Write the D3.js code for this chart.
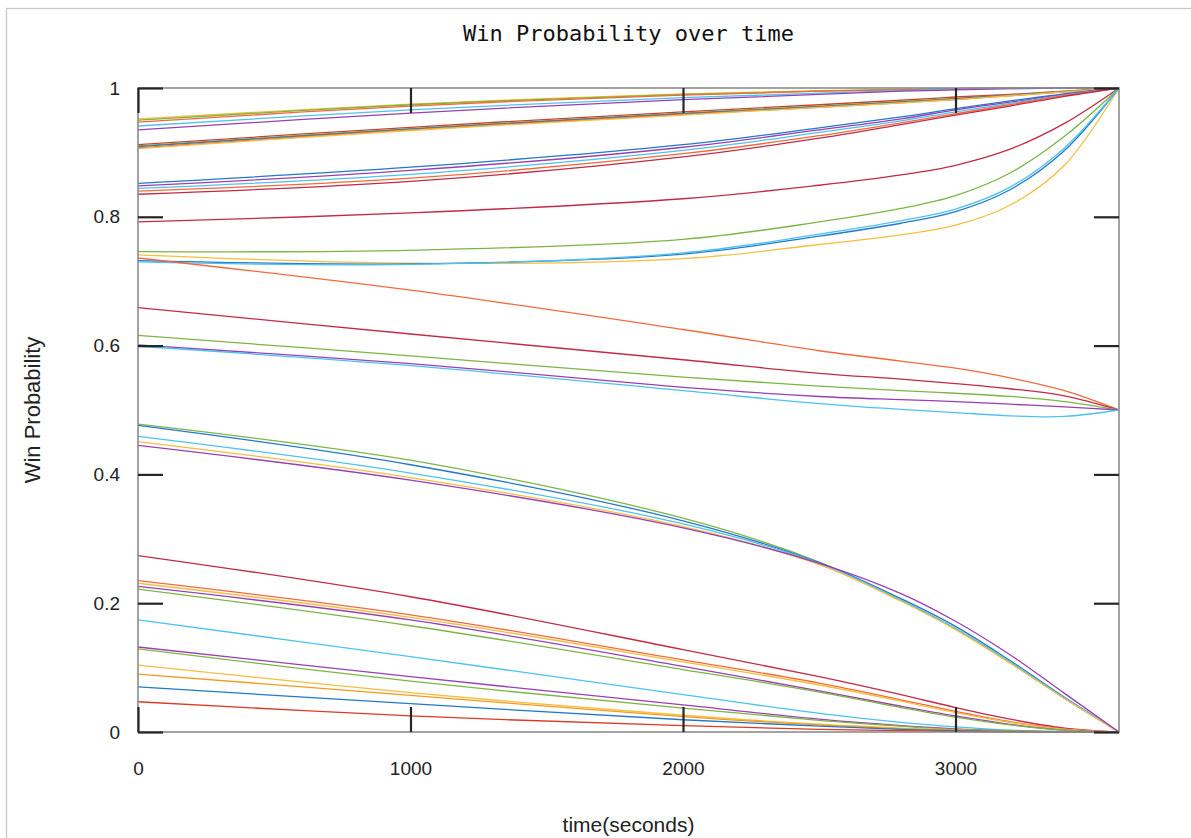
<!DOCTYPE html>
<html>
<head>
<meta charset="utf-8">
<script src="https://cdn.jsdelivr.net/npm/d3@7"></script>
<style>
  html, body { margin: 0; padding: 0; background: #fff; }
  svg { display: block; }
</style>
</head>
<body>
<svg id="chart" width="1191" height="838"></svg>
<script>
// ---------------- DATA ----------------
const times = [0, 1000, 2000, 2500, 2800, 3000, 3200, 3400, 3600];
const xTicks = [0, 1000, 2000, 3000];
const yTicks = [0, 0.2, 0.4, 0.6, 0.8, 1];
const titleText = "Win Probability over time";
const xLabel = "time(seconds)";
const yLabel = "Win Probability";

// lines starting near 0.95 (reach 1 early)
const groupTop = [
  [0.952, 0.975, 0.991, 0.996, 0.998, 0.999, 1.000, 1.000, 1.000],
  [0.950, 0.974, 0.990, 0.995, 0.998, 0.999, 1.000, 1.000, 1.000],
  [0.947, 0.972, 0.989, 0.995, 0.997, 0.999, 1.000, 1.000, 1.000],
  [0.941, 0.966, 0.985, 0.992, 0.996, 0.998, 0.999, 1.000, 1.000],
  [0.935, 0.961, 0.982, 0.990, 0.995, 0.997, 0.999, 1.000, 1.000]
];
const groupTopColors = ["yellow", "green", "orange", "lightblue", "purple"];

// lines starting near 0.91
const groupHigh = [
  [0.912, 0.939, 0.963, 0.974, 0.981, 0.986, 0.990, 0.995, 1.000],
  [0.910, 0.937, 0.961, 0.972, 0.979, 0.984, 0.989, 0.995, 1.000],
  [0.909, 0.936, 0.960, 0.971, 0.978, 0.983, 0.989, 0.994, 1.000],
  [0.907, 0.935, 0.959, 0.970, 0.977, 0.982, 0.988, 0.994, 1.000],
  [0.906, 0.934, 0.958, 0.970, 0.977, 0.982, 0.988, 0.994, 1.000]
];
const groupHighColors = ["red", "green", "blue", "orange", "yellow"];

// lines starting near 0.85
const groupUpper = [
  [0.852, 0.877, 0.912, 0.938, 0.955, 0.968, 0.980, 0.991, 1.000],
  [0.848, 0.872, 0.908, 0.935, 0.952, 0.966, 0.978, 0.990, 1.000],
  [0.844, 0.866, 0.903, 0.931, 0.949, 0.963, 0.976, 0.989, 1.000],
  [0.840, 0.860, 0.898, 0.926, 0.946, 0.960, 0.974, 0.988, 1.000],
  [0.835, 0.855, 0.893, 0.922, 0.943, 0.958, 0.972, 0.987, 1.000]
];
const groupUpperColors = ["blue", "purple", "lightblue", "orange", "crimson"];

// lines starting 0.73-0.79 ending at 1
const groupMid = [
  [0.792, 0.806, 0.828, 0.849, 0.865, 0.880, 0.905, 0.945, 1.000],
  [0.746, 0.748, 0.765, 0.792, 0.813, 0.833, 0.868, 0.925, 1.000],
  [0.741, 0.728, 0.735, 0.757, 0.772, 0.787, 0.818, 0.880, 1.000],
  [0.732, 0.727, 0.742, 0.770, 0.790, 0.808, 0.842, 0.903, 1.000],
  [0.730, 0.726, 0.744, 0.773, 0.794, 0.812, 0.846, 0.907, 1.000]
];
const groupMidColors = ["crimson", "green", "yellow", "blue", "lightblue"];

// lines ending at 0.5
const groupHalf = [
  [0.736, 0.686, 0.625, 0.592, 0.576, 0.565, 0.550, 0.530, 0.500],
  [0.659, 0.618, 0.578, 0.557, 0.548, 0.541, 0.533, 0.522, 0.500],
  [0.616, 0.584, 0.551, 0.537, 0.530, 0.526, 0.521, 0.513, 0.500],
  [0.601, 0.572, 0.535, 0.521, 0.516, 0.513, 0.509, 0.505, 0.500],
  [0.599, 0.569, 0.530, 0.510, 0.501, 0.496, 0.491, 0.490, 0.500]
];
const groupHalfColors = ["orange", "crimson", "green", "purple", "lightblue"];

// lines starting near 0.45-0.48 ending at 0
const groupLow = [
  [0.478, 0.422, 0.332, 0.264, 0.205, 0.160, 0.108, 0.052, 0.000],
  [0.476, 0.415, 0.328, 0.263, 0.207, 0.164, 0.111, 0.054, 0.000],
  [0.459, 0.402, 0.323, 0.262, 0.205, 0.161, 0.109, 0.053, 0.000],
  [0.451, 0.395, 0.319, 0.260, 0.203, 0.159, 0.107, 0.052, 0.000],
  [0.445, 0.391, 0.317, 0.262, 0.215, 0.172, 0.120, 0.060, 0.000]
];
const groupLowColors = ["green", "blue", "lightblue", "yellow", "purple"];

// lines starting below 0.3 ending at 0
const groupBottom = [
  [0.274, 0.210, 0.128, 0.086, 0.058, 0.038, 0.020, 0.006, 0.000],
  [0.235, 0.182, 0.112, 0.076, 0.050, 0.032, 0.016, 0.005, 0.000],
  [0.231, 0.178, 0.109, 0.073, 0.048, 0.030, 0.015, 0.004, 0.000],
  [0.226, 0.174, 0.102, 0.064, 0.040, 0.025, 0.012, 0.003, 0.000],
  [0.222, 0.165, 0.097, 0.062, 0.038, 0.023, 0.011, 0.003, 0.000],
  [0.174, 0.117, 0.058, 0.029, 0.015, 0.008, 0.003, 0.001, 0.000],
  [0.132, 0.086, 0.042, 0.020, 0.010, 0.005, 0.002, 0.000, 0.000],
  [0.129, 0.079, 0.037, 0.018, 0.009, 0.004, 0.002, 0.000, 0.000],
  [0.104, 0.061, 0.026, 0.012, 0.006, 0.003, 0.001, 0.000, 0.000],
  [0.090, 0.057, 0.024, 0.011, 0.005, 0.003, 0.001, 0.000, 0.000],
  [0.070, 0.044, 0.019, 0.009, 0.004, 0.002, 0.001, 0.000, 0.000],
  [0.047, 0.025, 0.010, 0.004, 0.002, 0.001, 0.000, 0.000, 0.000]
];
const groupBottomColors = ["crimson", "orange", "yellow", "purple", "green", "lightblue",
  "purple", "green", "yellow", "amber", "blue", "red"];

// ---------------- STYLE ----------------
const palette = {
  crimson: "#c22a47",
  red: "#db3a26",
  orange: "#f26a3a",
  amber: "#f39a1e",
  yellow: "#f6bd3f",
  green: "#7db544",
  blue: "#2278c9",
  lightblue: "#4cc2f2",
  purple: "#9a3fb3"
};

const svg = d3.select("#chart");
const W = 1191, H = 838;
const margin = { left: 138, right: W - 1119, top: 88, bottom: H - 732 };

// outer light frame
svg.append("rect")
  .attr("x", 6.5).attr("y", 8.5)
  .attr("width", 1300).attr("height", 1000)
  .attr("fill", "none").attr("stroke", "#c8c8c8").attr("stroke-width", 1.3);

const x = d3.scaleLinear().domain([0, 3600]).range([margin.left, W - margin.right]);
const y = d3.scaleLinear().domain([0, 1]).range([H - margin.bottom, margin.top]);
const x0 = x(0), x1 = x(3600), y0 = y(0), y1 = y(1);

svg.append("defs").append("clipPath").attr("id", "clip")
  .append("rect").attr("x", x0).attr("y", y1 - 1)
  .attr("width", x1 - x0).attr("height", y0 - y1 + 2);

const allGroups = [
  [groupTop, groupTopColors],
  [groupHigh, groupHighColors],
  [groupUpper, groupUpperColors],
  [groupMid, groupMidColors],
  [groupHalf, groupHalfColors],
  [groupLow, groupLowColors],
  [groupBottom, groupBottomColors]
];

const line = d3.line()
  .x((d, i) => x(times[i]))
  .y(d => y(d))
  .curve(d3.curveCatmullRom.alpha(0.5));

const plot = svg.append("g").attr("clip-path", "url(#clip)");
allGroups.forEach(([vals, cols]) => {
  vals.forEach((v, i) => {
    plot.append("path")
      .attr("d", line(v))
      .attr("fill", "none")
      .attr("stroke", palette[cols[i]])
      .attr("stroke-width", 1.3);
  });
});

// frame
svg.append("rect")
  .attr("x", x0).attr("y", y1)
  .attr("width", x1 - x0).attr("height", y0 - y1)
  .attr("fill", "none").attr("stroke", "#8c8c8c").attr("stroke-width", 1.6);

// ticks via d3 axes (inside, mirrored)
const tickLen = 25;
function styleAxis(g) {
  g.select(".domain").remove();
  g.selectAll(".tick line").attr("stroke", "#262626").attr("stroke-width", 2.2);
}
const labelFont = "Liberation Sans, Arial, sans-serif";
svg.append("g").attr("transform", `translate(0,${y0})`)
  .call(d3.axisBottom(x).tickValues(xTicks).tickSize(-tickLen).tickPadding(30).tickFormat(d3.format("d")))
  .call(styleAxis)
  .call(g => g.selectAll("text").attr("font-family", labelFont)
    .attr("font-size", 19).attr("fill", "#222"));
svg.append("g").attr("transform", `translate(0,${y1})`)
  .call(d3.axisTop(x).tickValues(xTicks).tickSize(-tickLen).tickFormat(""))
  .call(styleAxis);
svg.append("g").attr("transform", `translate(${x0},0)`)
  .call(d3.axisLeft(y).tickValues(yTicks).tickSize(-tickLen).tickPadding(18).tickFormat(d3.format("~g")))
  .call(styleAxis)
  .call(g => g.selectAll("text").attr("font-family", labelFont)
    .attr("font-size", 19).attr("fill", "#222"));
svg.append("g").attr("transform", `translate(${x1},0)`)
  .call(d3.axisRight(y).tickValues(yTicks).tickSize(-tickLen).tickFormat(""))
  .call(styleAxis);

// title
svg.append("text")
  .attr("x", (x0 + x1) / 2).attr("y", 41)
  .attr("text-anchor", "middle")
  .attr("font-family", "DejaVu Sans Mono, monospace")
  .attr("font-size", 22)
  .attr("fill", "#111")
  .text(titleText);

// axis titles
svg.append("text")
  .attr("x", (x0 + x1) / 2).attr("y", 832)
  .attr("text-anchor", "middle")
  .attr("font-family", labelFont)
  .attr("font-size", 21)
  .attr("fill", "#222")
  .text(xLabel);
svg.append("text")
  .attr("transform", `translate(40,${(y0 + y1) / 2}) rotate(-90)`)
  .attr("text-anchor", "middle")
  .attr("font-family", labelFont)
  .attr("font-size", 22)
  .attr("fill", "#222")
  .text(yLabel);
</script>
</body>
</html>
